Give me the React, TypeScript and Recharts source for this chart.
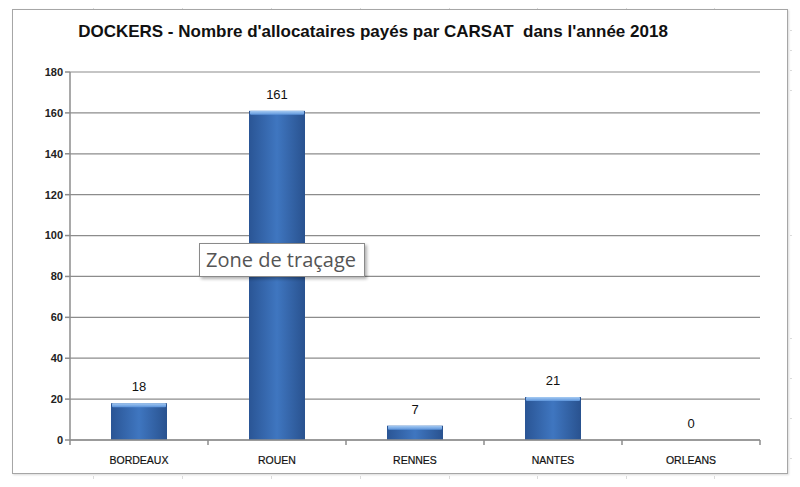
import React from "react"
import { BarChart, Bar, XAxis, YAxis, CartesianGrid, LabelList } from "recharts"

const CATEGORIES = ["BORDEAUX", "ROUEN", "RENNES", "NANTES", "ORLEANS"]
const VALUES = [18, 161, 7, 21, 0]
const Y_TICKS = [0, 20, 40, 60, 80, 100, 120, 140, 160, 180]
const TITLE = "DOCKERS - Nombre d'allocataires payés par CARSAT  dans l'année 2018"
const TOOLTIP_TEXT = "Zone de traçage"

const data = CATEGORIES.map((name, i) => ({ name, value: VALUES[i] }))

const W = 800
const H = 487
const MARGIN = { top: 72, right: 40, bottom: 17, left: 20 }
const Y_AXIS_W = 50
const PLOT_W = W - MARGIN.left - MARGIN.right - Y_AXIS_W
const BAND = PLOT_W / CATEGORIES.length

const SHEET_COLS = [93, 182, 271, 360, 449, 537, 626, 714]
const SHEET_ROWS = [30, 50, 70, 90, 235, 338, 378, 418, 458]

const FONT = "'Liberation Sans Narrow', 'Liberation Sans', Arial, sans-serif"
const AXIS_GREY = "#8c8c8c"

function BarShape(props: any) {
  const { x, y, width, height } = props
  if (!height || height <= 0) return null
  const cap = Math.min(4, height)
  return (
    <g>
      <rect x={x} y={y} width={width} height={height} fill="url(#barGrad)" />
      <rect x={x + 1} y={y} width={width - 2} height={cap} fill="url(#capGrad)" rx={1} />
    </g>
  )
}

function CatTick(props: any) {
  const { x, y, payload, index } = props
  const left = x - BAND / 2
  return (
    <g>
      <line x1={left} y1={y - 8} x2={left} y2={y - 3} stroke={AXIS_GREY} strokeWidth={1.5} />
      {index === CATEGORIES.length - 1 && (
        <line x1={left + BAND} y1={y - 8} x2={left + BAND} y2={y - 3} stroke={AXIS_GREY} strokeWidth={1.5} />
      )}
      <text x={x} y={y + 16} textAnchor="middle" fontSize={10.5} fontFamily={FONT} fill="#111" stroke="#111" strokeWidth={0.2}>
        {payload.value}
      </text>
    </g>
  )
}

export default function App() {
  return (
    <div style={{ position: "relative", width: W, height: H, margin: -8, background: "#fff", overflow: "hidden" }}>
      {SHEET_COLS.map((x) => (
        <React.Fragment key={`c${x}`}>
          <div style={{ position: "absolute", left: x, top: 0, width: 1, height: 10, background: "#dcdcdc" }} />
          <div style={{ position: "absolute", left: x, top: 476, width: 1, height: 11, background: "#dcdcdc" }} />
        </React.Fragment>
      ))}
      {SHEET_ROWS.map((y) => (
        <div key={`r${y}`} style={{ position: "absolute", left: 790, top: y, width: 10, height: 1, background: "#dcdcdc" }} />
      ))}
      <div style={{ position: "absolute", left: 0, top: 479, width: W, height: 1, background: "#dcdcdc" }} />

      <div
        style={{
          position: "absolute",
          left: 12,
          top: 9,
          width: 774,
          height: 463,
          border: "1.5px solid #a6a6a6",
          background: "#fff",
          boxShadow: "1px 1px 2px rgba(0,0,0,0.15)",
        }}
      />

      <div
        style={{
          position: "absolute",
          left: 0,
          top: 22,
          width: 746,
          textAlign: "center",
          fontFamily: FONT,
          fontWeight: 700,
          fontSize: 17,
          color: "#111",
          whiteSpace: "pre",
        }}
      >
        {TITLE}
      </div>

      <div style={{ position: "absolute", left: 0, top: 0 }}>
        <BarChart width={W} height={H} data={data} margin={MARGIN} barCategoryGap="30%">
          <defs>
            <linearGradient id="barGrad" x1="0" y1="0" x2="1" y2="0">
              <stop offset="0%" stopColor="#2a5595" />
              <stop offset="50%" stopColor="#3f76c0" />
              <stop offset="100%" stopColor="#29528f" />
            </linearGradient>
            <linearGradient id="capGrad" x1="0" y1="0" x2="0" y2="1">
              <stop offset="0%" stopColor="#a6cbf3" />
              <stop offset="100%" stopColor="#5b93da" />
            </linearGradient>
          </defs>
          <CartesianGrid vertical={false} stroke={AXIS_GREY} strokeWidth={1.2} />
          <XAxis
            dataKey="name"
            axisLine={{ stroke: AXIS_GREY, strokeWidth: 1.5 }}
            tickLine={false}
            tick={<CatTick />}
            height={30}
            interval={0}
          />
          <YAxis
            domain={[0, 180]}
            ticks={Y_TICKS}
            width={Y_AXIS_W}
            axisLine={{ stroke: AXIS_GREY, strokeWidth: 1.5 }}
            tickLine={{ stroke: AXIS_GREY, strokeWidth: 1.5 }}
            tickSize={5}
            tick={{ fontSize: 11, fontFamily: FONT, fontWeight: 700, fill: "#222" }}
          />
          <Bar dataKey="value" barSize={56} shape={<BarShape />} isAnimationActive={false}>
            <LabelList dataKey="value" position="top" offset={12} fontSize={13} fontFamily={FONT} fill="#111" />
          </Bar>
        </BarChart>
      </div>

      <div
        style={{
          position: "absolute",
          left: 199,
          top: 243,
          padding: "2px 8px 3px 6px",
          border: "1px solid #8a8a8a",
          background: "#fff",
          boxShadow: "2px 2px 3px rgba(0,0,0,0.3)",
          fontFamily: "'Open Sans', 'Noto Sans', sans-serif",
          fontSize: 20,
          lineHeight: "27px",
          color: "#555",
          whiteSpace: "nowrap",
        }}
      >
        {TOOLTIP_TEXT}
      </div>
    </div>
  )
}
